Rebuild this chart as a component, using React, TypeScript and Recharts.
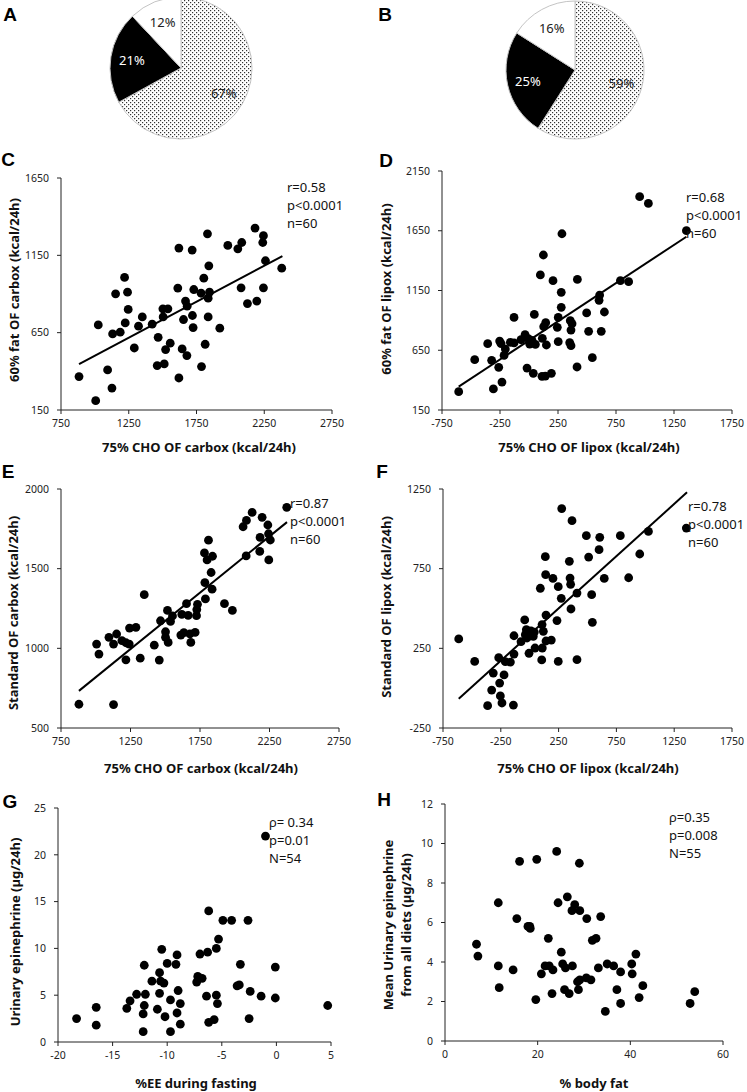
import { Cell, Pie, PieChart, Scatter, ScatterChart, XAxis, YAxis } from 'recharts';

const FONT = "'Noto Sans', 'DejaVu Sans', sans-serif";
const LETTER_FONT = "'Liberation Sans', Arial, sans-serif";
const INK = '#111';

// A / B pies: dotted, black, white shares
const pieNames = ['dotted', 'black', 'white'];
const pieA = [67, 21, 12];
const pieB = [59, 25, 16];

// C: 75% CHO OF carbox vs 60% fat OF carbox
const cX = [883, 1006, 1025, 1094, 1126, 1131, 1153, 1187, 1219, 1224, 1241, 1246, 1291, 1322, 1350, 1423, 1467, 1460, 1502, 1504, 1512, 1522, 1539, 1556, 1612, 1620, 1620, 1644, 1654, 1669, 1679, 1681, 1718, 1720, 1725, 1730, 1784, 1787, 1804, 1814, 1831, 1836, 1836, 1841, 1846, 1922, 1981, 2055, 2084, 2079, 2126, 2182, 2195, 2244, 2239, 2244, 2259, 2379];
const cY = [366, 210, 700, 409, 292, 642, 901, 653, 1007, 713, 912, 800, 551, 692, 752, 705, 620, 437, 804, 752, 448, 541, 804, 582, 938, 1197, 357, 545, 735, 854, 502, 821, 1184, 761, 683, 929, 905, 431, 1002, 575, 1289, 873, 752, 1082, 912, 679, 1214, 1192, 1233, 940, 838, 1326, 854, 1277, 1233, 940, 1115, 1067];
const cFitX = [883, 2384];
const cFitY = [446, 1145];

// D: 75% CHO OF lipox vs 60% fat OF lipox
const dX = [-606, -468, -356, -322, -307, -261, -253, -241, -233, -215, -204, -161, -129, -129, -69, -34, -17, -6, 6, 26, 46, 37, 55, 98, 115, 112, 124, 127, 141, 144, 150, 193, 207, 244, 252, 252, 278, 278, 284, 351, 356, 362, 362, 371, 414, 417, 497, 514, 546, 604, 609, 623, 650, 788, 859, 954, 1029, 1357];
const dY = [303, 571, 705, 566, 326, 507, 727, 705, 384, 607, 660, 716, 711, 925, 738, 780, 501, 747, 702, 733, 950, 457, 699, 1280, 750, 432, 1447, 847, 434, 881, 694, 457, 1232, 842, 925, 722, 1135, 1009, 1625, 713, 897, 688, 819, 872, 510, 1243, 962, 808, 588, 1068, 1112, 808, 970, 1232, 1224, 1935, 1879, 1651];
const dFitX = [-606, 1357];
const dFitY = [345, 1600];

// E: 75% CHO OF carbox vs standard OF carbox
const eX = [879, 1006, 1023, 1095, 1128, 1128, 1150, 1188, 1217, 1217, 1241, 1243, 1289, 1320, 1349, 1421, 1457, 1466, 1502, 1502, 1516, 1521, 1538, 1552, 1612, 1619, 1634, 1653, 1665, 1677, 1684, 1715, 1725, 1727, 1732, 1782, 1785, 1789, 1801, 1811, 1830, 1840, 1837, 1926, 1983, 2060, 2082, 2084, 2125, 2180, 2182, 2197, 2238, 2243, 2245, 2256, 2374];
const eY = [649, 1027, 964, 1069, 1027, 647, 1090, 1048, 1035, 928, 1027, 1127, 1132, 938, 1337, 1020, 926, 1173, 1104, 1069, 1238, 1037, 1169, 1203, 1083, 1213, 1098, 1280, 1207, 1090, 1037, 1100, 1205, 1243, 1276, 1599, 1413, 1310, 1555, 1679, 1476, 1578, 1371, 1280, 1238, 1763, 1580, 1803, 1853, 1608, 1696, 1822, 1774, 1719, 1555, 1680, 1885];
const eFitX = [879, 2376];
const eFitY = [733, 1792];

// F: 75% CHO OF lipox vs standard OF lipox
const fX = [-614, -476, -364, -329, -315, -268, -260, -254, -240, -222, -211, -167, -141, -136, -136, -75, -43, -38, -29, -23, -6, 11, 31, 40, 46, 92, 107, 104, 109, 118, 135, 138, 141, 141, 187, 201, 236, 247, 247, 273, 277, 343, 349, 354, 357, 366, 409, 409, 490, 510, 542, 606, 600, 536, 645, 784, 856, 952, 1027, 1355];
const fY = [309, 168, -110, -12, 95, 191, 32, -49, -93, 83, 166, 164, -106, 214, 329, 292, 428, 336, 367, 315, 219, 359, 325, 352, 252, 627, 399, 177, 252, 357, 825, 712, 296, 459, 302, 689, 424, 637, 168, 564, 1127, 796, 691, 652, 497, 1051, 597, 179, 957, 823, 413, 947, 869, 587, 689, 957, 693, 842, 984, 1005];
const fFitX = [-614, 1361];
const fFitY = [-66, 1229];

// G: %EE during fasting vs urinary epinephrine
const gX = [-18.3, -16.5, -16.5, -13.7, -13.4, -12.8, -12.2, -12.2, -12.1, -12.1, -12.0, -11.4, -10.9, -10.7, -10.7, -10.6, -10.5, -10.3, -10.2, -10.0, -9.7, -9.7, -9.2, -9.1, -9.1, -9.0, -8.8, -8.8, -7.3, -7.2, -7.0, -6.8, -6.4, -6.3, -6.2, -6.2, -5.7, -5.5, -5.5, -5.4, -5.3, -4.9, -4.1, -3.6, -3.4, -3.3, -2.6, -2.5, -2.4, -1.4, -1.0, -0.1, -0.1, 4.7];
const gY = [2.5, 3.7, 1.8, 3.6, 4.4, 5.1, 1.1, 3.0, 3.9, 8.2, 5.1, 6.5, 3.5, 7.4, 5.2, 6.5, 9.9, 6.3, 2.7, 8.4, 4.5, 1.1, 8.3, 9.3, 3.1, 5.5, 4.1, 1.9, 6.4, 7.0, 9.4, 6.8, 4.9, 9.6, 2.1, 14.0, 2.4, 5.0, 10.0, 4.1, 11.0, 13.0, 13.0, 6.0, 6.1, 8.3, 13.0, 2.5, 5.4, 4.9, 22.0, 8.0, 4.7, 3.9];

// H: % body fat vs mean urinary epinephrine
const hX = [6.8, 7.1, 11.5, 11.5, 11.7, 14.7, 15.5, 16.1, 17.9, 18.3, 18.4, 19.6, 19.8, 20.8, 21.6, 22.3, 22.5, 23.1, 23.3, 24.1, 24.4, 25.1, 25.4, 25.8, 26.0, 26.4, 26.8, 27.5, 27.4, 28.0, 28.6, 28.8, 29.0, 29.1, 29.1, 30.5, 30.6, 31.5, 31.8, 32.6, 33.1, 33.6, 34.6, 35.0, 36.4, 37.1, 37.9, 37.9, 40.3, 40.4, 41.2, 41.9, 42.7, 52.9, 53.9];
const hY = [4.9, 4.3, 7.0, 3.8, 2.7, 3.6, 6.2, 9.1, 5.8, 5.8, 5.7, 2.1, 9.2, 3.4, 3.8, 5.2, 3.8, 2.4, 3.6, 9.6, 7.0, 4.5, 3.9, 2.6, 3.7, 7.3, 2.4, 3.8, 6.6, 6.9, 3.0, 2.6, 9.0, 6.6, 3.1, 3.2, 6.2, 3.1, 5.1, 5.2, 3.7, 6.3, 1.5, 3.9, 3.8, 2.6, 3.5, 1.9, 3.9, 3.4, 4.4, 2.2, 2.8, 1.9, 2.5];

const carboxTicks = [750, 1250, 1750, 2250, 2750];
const lipoxTicks = [-750, -250, 250, 750, 1250, 1750];

function zip(xs: number[], ys: number[]) {
  return xs.map((x, i) => ({ x, y: ys[i] }));
}

const Dot = (p: any) => <circle cx={p.cx} cy={p.cy} r={4.4} fill="#000" />;
const NoDot = () => <g />;

type Box = { x0: number; y0: number; x1: number; y1: number };

function Txt({ x, y, children, bold, size = 13, rotate, anchor = 'center', lh }: any) {
  const tx = anchor === 'left' ? '0' : '-50%';
  return (
    <div
      style={{
        position: 'absolute',
        left: x,
        top: y,
        transform: `translate(${tx}, -50%)${rotate ? ` rotate(${rotate}deg)` : ''}`,
        fontFamily: FONT,
        fontSize: size,
        fontWeight: bold ? 700 : 400,
        color: INK,
        whiteSpace: 'pre',
        lineHeight: lh ? `${lh}px` : 'normal',
        textAlign: 'center',
      }}
    >
      {children}
    </div>
  );
}

function Letter({ x, y, children }: { x: number; y: number; children: string }) {
  return (
    <div
      style={{
        position: 'absolute',
        left: x,
        top: y,
        transform: 'translate(-50%, -50%)',
        fontFamily: LETTER_FONT,
        fontWeight: 700,
        fontSize: 19,
        color: '#000',
      }}
    >
      {children}
    </div>
  );
}

function Panel({
  box,
  xDomain,
  xTicks,
  yDomain,
  yTicks,
  points,
  fit,
}: {
  box: Box;
  xDomain: [number, number];
  xTicks: number[];
  yDomain: [number, number];
  yTicks: number[];
  points: { x: number; y: number }[];
  fit?: { x: number; y: number }[];
}) {
  const YW = 60;
  const w = YW + (box.x1 - box.x0) + 20;
  const h = 10 + (box.y1 - box.y0) + 30;
  const tick = { fill: '#222', fontSize: 10.5, fontFamily: FONT };
  return (
    <div style={{ position: 'absolute', left: box.x0 - YW, top: box.y0 - 10 }}>
      <ScatterChart width={w} height={h} margin={{ top: 10, right: 20, bottom: 0, left: 0 }}>
        <XAxis
          type="number"
          dataKey="x"
          domain={xDomain}
          ticks={xTicks}
          interval={0}
          height={30}
          axisLine={{ stroke: '#222' }}
          tickLine={{ stroke: '#222' }}
          tickSize={4}
          tickMargin={6}
          tick={tick}
        />
        <YAxis
          type="number"
          dataKey="y"
          domain={yDomain}
          ticks={yTicks}
          interval={0}
          width={YW}
          axisLine={{ stroke: '#222' }}
          tickLine={{ stroke: '#222' }}
          tickSize={4}
          tickMargin={8}
          tick={tick}
        />
        <Scatter data={points} shape={Dot} isAnimationActive={false} />
        {fit ? (
          <Scatter
            data={fit}
            line={{ stroke: '#000', strokeWidth: 2 }}
            shape={NoDot}
            isAnimationActive={false}
          />
        ) : null}
      </ScatterChart>
    </div>
  );
}

const RAD = Math.PI / 180;
const pieFills = ['url(#dots)', '#000', '#fff'];

const pieLabel = (p: any) => {
  const r = p.outerRadius * 0.7;
  const x = p.cx + r * Math.cos(-p.midAngle * RAD);
  const y = p.cy + r * Math.sin(-p.midAngle * RAD);
  return (
    <text
      x={x}
      y={y}
      textAnchor="middle"
      dominantBaseline="central"
      fill={p.index === 1 ? '#fff' : '#222'}
      fontSize={13}
      fontFamily={FONT}
    >
      {`${p.value}%`}
    </text>
  );
};

function Note({ x, y, lines }: { x: number; y: number; lines: string[] }) {
  return (
    <>
      {lines.map((l, i) => (
        <Txt key={l} x={x} y={y + i * 18} anchor="left" size={13}>
          {l}
        </Txt>
      ))}
    </>
  );
}

export default function App() {
  const dataA = pieNames.map((name, i) => ({ name, value: pieA[i] }));
  const dataB = pieNames.map((name, i) => ({ name, value: pieB[i] }));
  return (
    <div style={{ position: 'absolute', left: 0, top: 0, width: 747, height: 1092, background: '#fff', overflow: 'hidden' }}>
      <svg width={0} height={0} style={{ position: 'absolute' }}>
        <defs>
          <pattern id="dots" width={4} height={4} patternUnits="userSpaceOnUse">
            <rect width={4} height={4} fill="#fff" />
            <rect x={0} y={0} width={1.2} height={1.2} fill="#333" />
            <rect x={2} y={2} width={1.2} height={1.2} fill="#333" />
          </pattern>
        </defs>
      </svg>

      <div style={{ position: 'absolute', left: 0, top: 0 }}>
        <PieChart width={747} height={145} margin={{ top: 0, right: 0, bottom: 0, left: 0 }}>
          <Pie
            data={dataA}
            dataKey="value"
            nameKey="name"
            cx={181}
            cy={68}
            outerRadius={71}
            startAngle={90}
            endAngle={-270}
            stroke="#c4c4c4"
            strokeWidth={1}
            label={pieLabel}
            labelLine={false}
            isAnimationActive={false}
          >
            {dataA.map((d, i) => (
              <Cell key={d.name} fill={pieFills[i]} />
            ))}
          </Pie>
          <Pie
            data={dataB}
            dataKey="value"
            nameKey="name"
            cx={575}
            cy={70}
            outerRadius={69}
            startAngle={90}
            endAngle={-270}
            stroke="#c4c4c4"
            strokeWidth={1}
            label={pieLabel}
            labelLine={false}
            isAnimationActive={false}
          >
            {dataB.map((d, i) => (
              <Cell key={d.name} fill={pieFills[i]} />
            ))}
          </Pie>
        </PieChart>
      </div>

      <Letter x={10} y={15}>A</Letter>
      <Letter x={385} y={15}>B</Letter>
      <Letter x={8} y={160}>C</Letter>
      <Letter x={386} y={161}>D</Letter>
      <Letter x={8} y={472}>E</Letter>
      <Letter x={382} y={472}>F</Letter>
      <Letter x={10} y={802}>G</Letter>
      <Letter x={384} y={800}>H</Letter>

      {/* C */}
      <Panel
        box={{ x0: 61, y0: 178, x1: 332, y1: 410 }}
        xDomain={[750, 2750]}
        xTicks={carboxTicks}
        yDomain={[150, 1650]}
        yTicks={[150, 650, 1150, 1650]}
        points={zip(cX, cY)}
        fit={zip(cFitX, cFitY)}
      />
      <Note x={287} y={187} lines={['r=0.58', 'p<0.0001', 'n=60']} />
      <Txt x={199} y={447} bold>75% CHO OF carbox (kcal/24h)</Txt>
      <Txt x={14} y={290} bold rotate={-90}>60% fat OF carbox (kcal/24h)</Txt>

      {/* D */}
      <Panel
        box={{ x0: 442, y0: 171, x1: 732, y1: 410 }}
        xDomain={[-750, 1750]}
        xTicks={lipoxTicks}
        yDomain={[150, 2150]}
        yTicks={[150, 650, 1150, 1650, 2150]}
        points={zip(dX, dY)}
        fit={zip(dFitX, dFitY)}
      />
      <Note x={686} y={197} lines={['r=0.68', 'p<0.0001', 'n=60']} />
      <Txt x={589} y={447} bold>75% CHO OF lipox (kcal/24h)</Txt>
      <Txt x={386} y={289} bold rotate={-90}>60% fat OF lipox (kcal/24h)</Txt>

      {/* E */}
      <Panel
        box={{ x0: 61, y0: 489, x1: 339, y1: 728 }}
        xDomain={[750, 2750]}
        xTicks={carboxTicks}
        yDomain={[500, 2000]}
        yTicks={[500, 1000, 1500, 2000]}
        points={zip(eX, eY)}
        fit={zip(eFitX, eFitY)}
      />
      <Note x={290} y={503} lines={['r=0.87', 'p<0.0001', 'n=60']} />
      <Txt x={201} y={768} bold>75% CHO OF carbox (kcal/24h)</Txt>
      <Txt x={13} y={613} bold rotate={-90}>Standard OF carbox (kcal/24h)</Txt>

      {/* F */}
      <Panel
        box={{ x0: 443, y0: 489, x1: 732, y1: 728 }}
        xDomain={[-750, 1750]}
        xTicks={lipoxTicks}
        yDomain={[-250, 1250]}
        yTicks={[-250, 250, 750, 1250]}
        points={zip(fX, fY)}
        fit={zip(fFitX, fFitY)}
      />
      <Note x={688} y={506} lines={['r=0.78', 'p<0.0001', 'n=60']} />
      <Txt x={588} y={768} bold>75% CHO OF lipox (kcal/24h)</Txt>
      <Txt x={386} y={607} bold rotate={-90}>Standard OF lipox (kcal/24h)</Txt>

      {/* G */}
      <Panel
        box={{ x0: 58, y0: 808, x1: 331, y1: 1042 }}
        xDomain={[-20, 5]}
        xTicks={[-20, -15, -10, -5, 0, 5]}
        yDomain={[0, 25]}
        yTicks={[0, 5, 10, 15, 20, 25]}
        points={zip(gX, gY)}
      />
      <Note x={269} y={822} lines={['ρ= 0.34', 'p=0.01', 'N=54']} />
      <Txt x={196} y={1083} bold>%EE during fasting</Txt>
      <Txt x={15} y={932} bold rotate={-90}>Urinary epinephrine (µg/24h)</Txt>

      {/* H */}
      <Panel
        box={{ x0: 445, y0: 804, x1: 723, y1: 1041 }}
        xDomain={[0, 60]}
        xTicks={[0, 20, 40, 60]}
        yDomain={[0, 12]}
        yTicks={[0, 2, 4, 6, 8, 10, 12]}
        points={zip(hX, hY)}
      />
      <Note x={669} y={817} lines={['ρ=0.35', 'p=0.008', 'N=55']} />
      <Txt x={594} y={1083} bold>% body fat</Txt>
      <Txt x={397} y={925} bold rotate={-90} lh={18}>{'Mean Urinary epinephrine\nfrom all diets (µg/24h)'}</Txt>
    </div>
  );
}
